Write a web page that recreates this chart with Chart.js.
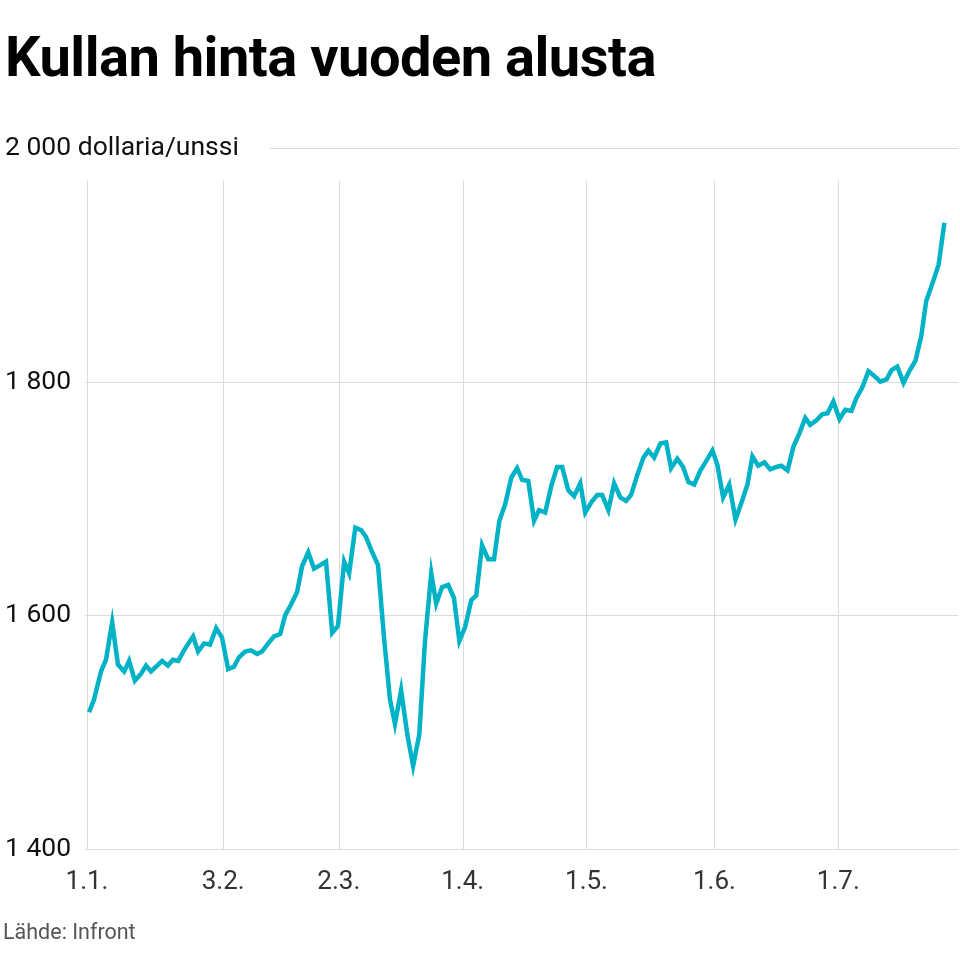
<!DOCTYPE html>
<html><head><meta charset="utf-8">
<script src="https://cdn.jsdelivr.net/npm/chart.js@4"></script>
<style>
html,body{margin:0;padding:0;background:#fff;}
#wrap{position:relative;width:960px;height:960px;font-family:Roboto,sans-serif;}
#title{position:absolute;left:5px;top:22px;font-size:56px;line-height:70px;font-weight:700;color:#000;letter-spacing:-0.5px;margin:0;}
#src{position:absolute;left:3px;top:919px;font-size:21.5px;color:#555;}
canvas{position:absolute;left:0;top:0;}
</style></head><body>
<div id="wrap">
<canvas id="c" width="960" height="960"></canvas>
<h1 id="title">Kullan hinta vuoden alusta</h1>
<div id="src">Lähde: Infront</div>
</div>
<script>
const days=[0.5,1.7,3.4,4.6,6.1,7.5,9.0,10.2,11.6,13.1,14.3,15.5,17.0,18.2,19.6,20.8,22.1,23.5,25.7,26.9,28.4,29.8,31.3,32.7,34.2,35.6,36.8,38.3,39.7,41.2,42.4,43.9,45.3,46.8,48.0,49.4,50.9,52.1,53.6,55.0,56.5,57.9,59.4,60.8,62.3,63.5,65.0,66.4,67.6,69.1,70.5,72.0,73.4,74.6,76.1,77.6,79.0,80.5,81.9,83.4,84.6,86.0,87.5,88.9,90.2,91.6,93.1,94.3,95.7,97.2,98.6,99.9,101.3,102.8,104.2,105.4,106.9,108.3,109.5,111.0,112.5,113.9,115.1,116.6,118.0,119.5,120.7,122.2,123.6,124.8,126.3,127.7,129.2,130.6,131.8,133.3,134.8,136.0,137.4,138.9,140.3,141.5,143.0,144.4,145.7,147.1,148.6,150.0,151.5,152.7,154.1,155.6,157.1,158.5,160.0,161.2,162.6,164.1,165.5,167.0,168.2,169.7,171.1,172.6,174.0,175.2,176.7,178.1,179.4,180.8,182.3,183.7,185.2,186.4,187.8,189.3,190.7,192.2,193.7,194.9,196.3,197.8,199.2,200.7,202.1,203.3,204.8,206.3,207.7];
const prices=[1517,1528,1552,1562,1594,1558,1552,1561,1544,1550,1557,1552,1557,1561,1557,1562,1561,1570,1582,1569,1576,1575,1589,1581,1554,1556,1564,1569,1570,1567,1569,1576,1582,1584,1600,1609,1620,1642,1654,1640,1643,1646,1585,1591,1646,1636,1675,1673,1667,1654,1643,1579,1528,1507,1536,1498,1471,1498,1579,1636,1610,1624,1626,1615,1578,1590,1613,1617,1660,1648,1648,1681,1695,1718,1726,1716,1715,1681,1690,1688,1711,1727,1727,1707,1702,1713,1688,1697,1703,1703,1690,1713,1701,1698,1703,1720,1735,1741,1735,1747,1748,1726,1734,1727,1714,1712,1724,1732,1741,1729,1701,1712,1682,1696,1712,1736,1728,1731,1725,1727,1728,1724,1744,1756,1769,1763,1767,1772,1773,1783,1768,1776,1775,1786,1795,1809,1805,1800,1802,1810,1813,1799,1809,1818,1839,1869,1884,1900,1936];
const xTickDays=[0,33,61,91,121,152,182];
const xTickLabels=['1.1.','3.2.','2.3.','1.4.','1.5.','1.6.','1.7.'];
const yTicks=[1400,1600,1800,2000];
const yTickLabels=['1 400','1 600','1 800','2 000 dollaria/unssi'];

const decor={id:'decor',beforeDatasetsDraw(ch){
  const c=ch.ctx,x=ch.scales.x,y=ch.scales.y,a=ch.chartArea;
  c.save();c.strokeStyle='#dcdcdc';c.lineWidth=1;
  const vTop=y.getPixelForValue(1972);
  xTickDays.forEach(d=>{const px=Math.round(x.getPixelForValue(d))+0.5;c.beginPath();c.moveTo(px,vTop);c.lineTo(px,a.bottom);c.stroke();});
  c.font='26.5px Roboto';c.fillStyle='#111';c.textBaseline='middle';c.textAlign='left';
  yTicks.forEach((v,i)=>{const py=Math.round(y.getPixelForValue(v))+0.5;
    const w=c.measureText(yTickLabels[i]).width;
    const start=v===2000?270:Math.max(a.left-2,5+w+8);
    c.beginPath();c.moveTo(start,py);c.lineTo(958,py);c.stroke();
    c.fillText(yTickLabels[i],5,py);});
  c.font='26px Roboto';c.fillStyle='#333';c.textAlign='center';c.textBaseline='middle';
  xTickDays.forEach((d,i)=>{c.fillText(xTickLabels[i],x.getPixelForValue(d),882);});
  c.restore();}};

new Chart(document.getElementById('c'),{type:'line',
 data:{datasets:[{data:days.map((d,i)=>({x:d,y:prices[i]})),borderColor:'#00b2c6',borderWidth:4.5,pointRadius:0,tension:0,borderJoinStyle:'miter',fill:false}]},
 options:{responsive:false,animation:false,devicePixelRatio:1,
  layout:{padding:{left:87,right:2,top:148,bottom:111}},
  plugins:{legend:{display:false},tooltip:{enabled:false}},
  scales:{x:{type:'linear',min:0,max:211,display:false},y:{min:1400,max:2000,display:false}}},
 plugins:[decor]});
</script></body></html>
